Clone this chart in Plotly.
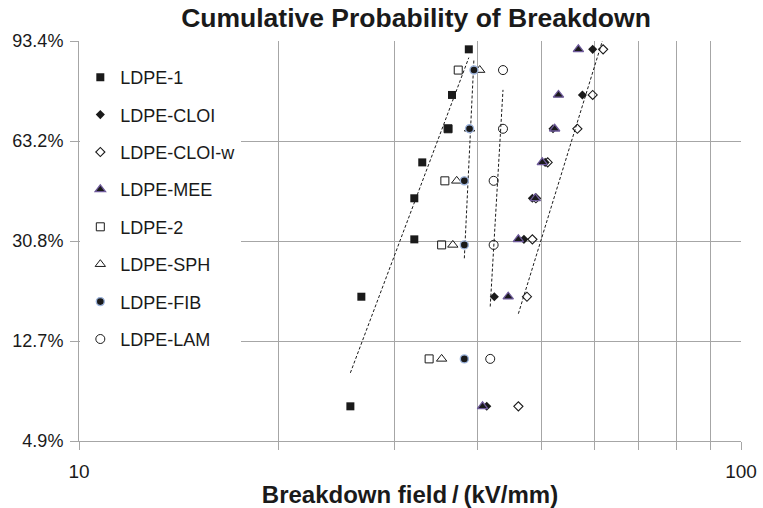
import numpy as np
import plotly.graph_objects as go

# Cumulative failure probability (%) assigned to each ranked specimen
prob8 = [6.8, 19.0, 31.2, 43.1, 55.4, 67.7, 79.5, 91.8]
prob5 = [10.7, 29.8, 48.9, 67.7, 86.9]

# Breakdown field (kV/mm), one value per rank
ldpe_1 = [25.7, 26.7, 32.1, 32.1, 33.0, 36.1, 36.6, 38.8]
ldpe_cloi = [41.3, 42.4, 47.0, 48.4, 50.6, 52.0, 57.6, 59.7]
ldpe_cloi_w = [46.1, 47.5, 48.4, 49.0, 51.05, 56.6, 59.7, 61.9]
ldpe_mee = [40.7, 44.5, 46.1, 48.9, 50.1, 52.3, 53.0, 56.8]
ldpe_2 = [33.8, 35.3, 35.7, 36.1, 37.4]
ldpe_sph = [35.3, 36.7, 37.2, 38.9, 40.3]
ldpe_fib = [38.2, 38.2, 38.2, 38.9, 39.5]
ldpe_lam = [41.8, 42.3, 42.3, 43.7, 43.7]

# Weibull probability axis levels
y_ticks = [-3, -2, -1, 0, 1]
x_ticks = [10, 20, 30, 40, 50, 60, 70, 80, 90, 100]


def weibull(p):
    p = np.asarray(p, dtype=float) / 100.0
    return np.log(-np.log(1.0 - p))


FONT = "Liberation Sans, Arial, Helvetica, sans-serif"
INK = "#1a1a1a"
GRID = "#a6a6a6"

series = [
    ("LDPE-1", ldpe_1, prob8, dict(symbol="square", size=8, color=INK, line=dict(width=0)), True),
    ("LDPE-CLOI", ldpe_cloi, prob8, dict(symbol="diamond", size=7, color=INK, line=dict(width=0)), False),
    ("LDPE-CLOI-w", ldpe_cloi_w, prob8, dict(symbol="diamond-open", size=7, color=INK, line=dict(width=1.1)), True),
    ("LDPE-MEE", ldpe_mee, prob8, dict(symbol="triangle-up", size=9, color=INK, line=dict(width=1.3, color="#6e5a9a")), False),
    ("LDPE-2", ldpe_2, prob5, dict(symbol="square-open", size=8, color=INK, line=dict(width=1)), False),
    ("LDPE-SPH", ldpe_sph, prob5, dict(symbol="triangle-up-open", size=9, color=INK, line=dict(width=1)), False),
    ("LDPE-FIB", ldpe_fib, prob5, dict(symbol="circle", size=8, color=INK, line=dict(width=1.4, color="#9db4dc")), True),
    ("LDPE-LAM", ldpe_lam, prob5, dict(symbol="circle-open", size=9, color=INK, line=dict(width=1)), True),
]

fig = go.Figure()

# Linear fits of the Weibull variate against log field, spanning each data range
for name, xs, ps, marker, fit in series:
    if not fit:
        continue
    lx = np.log10(xs)
    ys = weibull(ps)
    k, b = np.polyfit(lx, ys, 1)
    xr = np.array([min(xs), max(xs)])
    fig.add_trace(go.Scatter(
        x=xr, y=k * np.log10(xr) + b, mode="lines",
        line=dict(color=INK, width=1, dash="3px,2px"),
        showlegend=False, hoverinfo="skip",
    ))

for name, xs, ps, marker, fit in series:
    fig.add_trace(go.Scatter(
        x=xs, y=weibull(ps), mode="markers", name=name,
        legendgroup=name, marker=marker,
    ))

tick_text = [f"{100 * (1 - np.exp(-np.exp(t))):.1f}%" for t in y_ticks]
x_text = [str(v) if v in (10, 100) else "" for v in x_ticks]

fig.update_layout(
    width=763, height=508,
    margin=dict(l=79, r=22, t=41, b=67, autoexpand=False),
    paper_bgcolor="white", plot_bgcolor="white",
    font=dict(family=FONT, color=INK, size=18),
    title=dict(
        text="<b>Cumulative Probability of Breakdown</b>",
        x=416 / 763, xanchor="center", xref="container",
        y=1 - 18 / 508, yanchor="middle", yref="container",
        font=dict(size=26.5, family=FONT, color=INK),
    ),
    showlegend=True,
    legend=dict(
        x=0.002, xanchor="left", y=0.955, yanchor="top",
        bgcolor="white", borderwidth=0,
        font=dict(size=18, family=FONT, color=INK),
        tracegroupgap=11, itemsizing="trace",
    ),
    xaxis=dict(
        type="log", range=[1, 2], automargin=False,
        tickvals=x_ticks, ticktext=x_text,
        showgrid=True, gridcolor=GRID, gridwidth=1,
        showline=True, linecolor=GRID, linewidth=1,
        ticks="outside", ticklen=8, tickcolor=GRID,
        tickfont=dict(size=19, family=FONT, color=INK),
        ticklabelstandoff=5,
        zeroline=False,
        title=dict(
            text="<b>Breakdown field\u2009/\u2009(kV/mm)</b>",
            font=dict(size=24, family=FONT, color=INK),
            standoff=6,
        ),
    ),
    yaxis=dict(
        range=[-3, 1], automargin=False,
        tickvals=y_ticks, ticktext=tick_text,
        showgrid=True, gridcolor=GRID, gridwidth=1,
        showline=True, linecolor=GRID, linewidth=1, mirror=False,
        ticks="outside", ticklen=8, tickcolor=GRID,
        tickfont=dict(size=18, family=FONT, color=INK),
        ticklabelstandoff=3,
        zeroline=False,
    ),
)

fig.write_html("out.html")
